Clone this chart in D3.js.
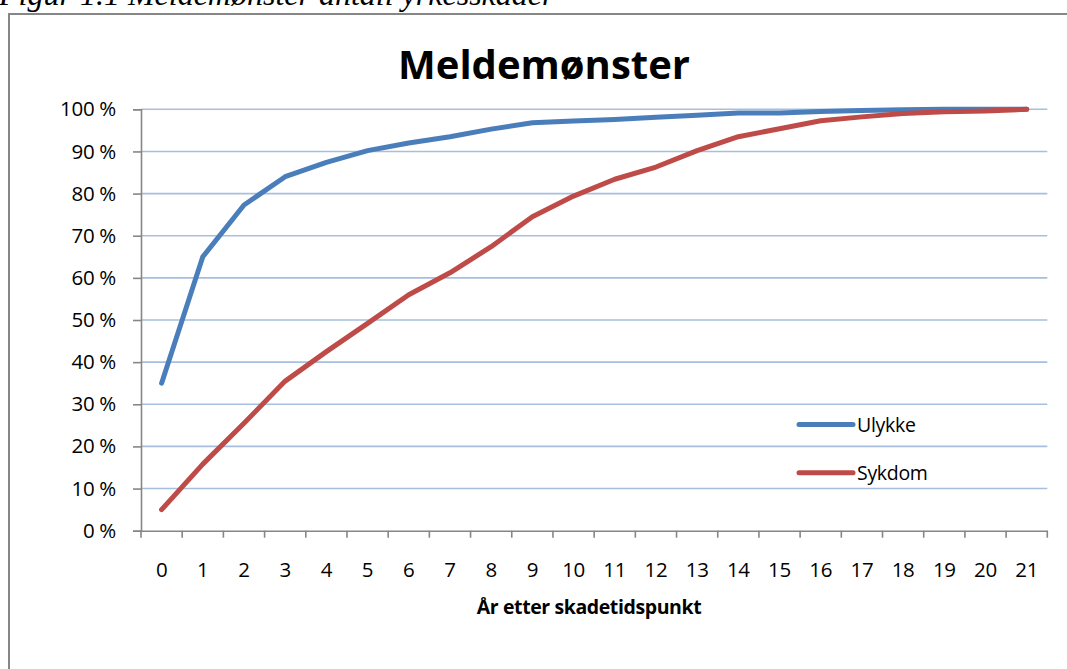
<!DOCTYPE html>
<html>
<head>
<meta charset="utf-8">
<script src="https://cdn.jsdelivr.net/npm/d3@7"></script>
<style>
  body { margin: 0; background: #fff; }
  svg { display: block; }
</style>
</head>
<body>
<svg id="chart" width="1067" height="669"></svg>
<script>
// years after injury
const years = d3.range(0, 22).map(String);
// cumulative share reported
const ulykke = [35, 65, 77.3, 84, 87.4, 90.2, 92, 93.5, 95.3, 96.8, 97.2, 97.6, 98.1, 98.6, 99.1, 99.1, 99.5, 99.7, 99.9, 100, 100, 100];
const sykdom = [5, 15.8, 25.5, 35.5, 42.5, 49.2, 56, 61.2, 67.4, 74.5, 79.4, 83.4, 86.3, 90.2, 93.5, 95.4, 97.3, 98.2, 99, 99.4, 99.6, 100];
const yTicks = [0, 10, 20, 30, 40, 50, 60, 70, 80, 90, 100];
const seriesNames = ["Ulykke", "Sykdom"];
const colors = ["#4a7ebb", "#be4b48"];

const svg = d3.select("#chart");
const font = "'Open Sans', 'Noto Sans', sans-serif";

// caption above the frame (cut off at the top of the page, as in the source)
svg.append("text")
  .attr("x", -1)
  .attr("y", 5)
  .attr("font-family", "'Liberation Serif', serif")
  .attr("font-style", "italic")
  .attr("font-size", 32)
  .attr("fill", "#000")
  .text("Figur 1.1 Meldemønster antall yrkesskader");

// chart frame
svg.append("rect")
  .attr("x", 9).attr("y", 14)
  .attr("width", 1070).attr("height", 680)
  .attr("fill", "#fff")
  .attr("stroke", "#868686")
  .attr("stroke-width", 2);

const x = d3.scaleBand().domain(years).range([141, 1047.3]).padding(0);
const y = d3.scaleLinear().domain([0, 100]).range([530.7, 109.3]);
const cx = d => x(d) + x.bandwidth() / 2;

// gridlines
svg.append("g")
  .selectAll("line")
  .data(yTicks.filter(t => t > 0))
  .join("line")
  .attr("x1", 141).attr("x2", 1047.3)
  .attr("y1", d => y(d)).attr("y2", d => y(d))
  .attr("stroke", "#a7bfdf")
  .attr("stroke-width", 1.6);

// y axis
const yAxis = svg.append("g")
  .attr("transform", "translate(141,0)")
  .call(d3.axisLeft(y).tickValues(yTicks).tickSize(8).tickPadding(17).tickFormat(d => d + " %"));
yAxis.select(".domain").attr("stroke", "#868686").attr("stroke-width", 1.6);
yAxis.selectAll(".tick line").attr("stroke", "#868686").attr("stroke-width", 1.6);
yAxis.selectAll("text")
  .attr("font-family", font)
  .attr("font-size", 20.5)
  .attr("letter-spacing", -0.3)
  .attr("fill", "#000");

// x axis: labels centred in each band, ticks on band edges
const xAxis = svg.append("g")
  .attr("transform", "translate(0,530.7)")
  .call(d3.axisBottom(x).tickSize(0).tickPadding(32).tickSizeOuter(0));
xAxis.select(".domain").attr("stroke", "#868686").attr("stroke-width", 1.6);
xAxis.selectAll("text")
  .attr("font-family", font)
  .attr("font-size", 20.5)
  .attr("letter-spacing", -0.3)
  .attr("fill", "#000");
xAxis.selectAll(".edge")
  .data(years.concat(["end"]))
  .join("line")
  .attr("class", "edge")
  .attr("x1", (d, i) => i < years.length ? x(d) : x.range()[1])
  .attr("x2", (d, i) => i < years.length ? x(d) : x.range()[1])
  .attr("y1", 0).attr("y2", 7)
  .attr("stroke", "#868686")
  .attr("stroke-width", 1.6);

// x axis title
svg.append("text")
  .attr("x", 589)
  .attr("y", 614)
  .attr("text-anchor", "middle")
  .attr("font-family", font)
  .attr("font-weight", "bold")
  .attr("font-size", 19.5)
  .attr("letter-spacing", -0.4)
  .text("År etter skadetidspunkt");

// title
svg.append("text")
  .attr("x", 544)
  .attr("y", 79)
  .attr("text-anchor", "middle")
  .attr("font-family", font)
  .attr("font-weight", "bold")
  .attr("font-size", 40)
  .text("Meldemønster");

// lines
const line = d3.line()
  .x((d, i) => cx(years[i]))
  .y(d => y(d));

[ulykke, sykdom].forEach((vals, i) => {
  svg.append("path")
    .attr("d", line(vals))
    .attr("fill", "none")
    .attr("stroke", colors[i])
    .attr("stroke-width", 5)
    .attr("stroke-linejoin", "round")
    .attr("stroke-linecap", "round");
});

// legend
const legend = svg.append("g").attr("transform", "translate(799,424.5)");
seriesNames.forEach((name, i) => {
  const g = legend.append("g").attr("transform", `translate(0,${i * 48.3})`);
  g.append("line")
    .attr("x1", 0).attr("x2", 54)
    .attr("stroke", colors[i])
    .attr("stroke-width", 5)
    .attr("stroke-linecap", "round");
  g.append("text")
    .attr("x", 58)
    .attr("y", 7)
    .attr("font-family", font)
    .attr("font-size", 19.5)
    .attr("letter-spacing", -0.3)
    .text(name);
});
</script>
</body>
</html>
